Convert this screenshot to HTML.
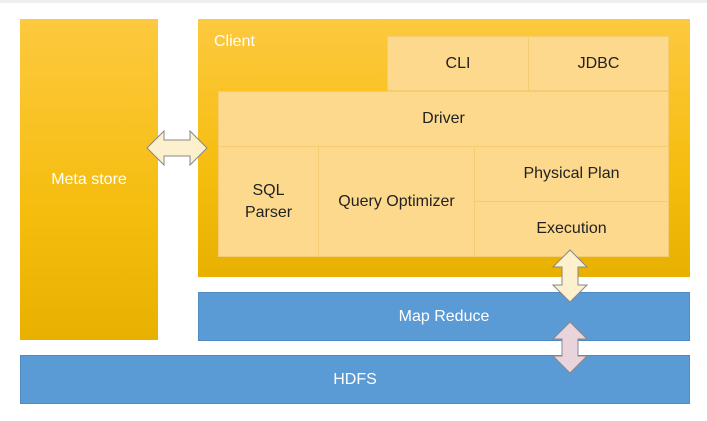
<!DOCTYPE html>
<html><head><style>
body{margin:0;width:707px;height:421px;background:#fff;position:relative;overflow:hidden;font-family:"Liberation Sans",sans-serif}
.a{position:absolute;box-sizing:border-box}
.y{background:linear-gradient(#fdc93f,#f5bd0e 60%,#e8b000)}
.b{background:#5b9bd5;border:1px solid #4f8ac2;color:#fff;font-size:16px;display:flex;align-items:center;justify-content:center}
.i{background:#fdd98d;border:1px solid #f6cc73;color:#222;font-size:16px;display:flex;align-items:center;justify-content:center;text-align:center;line-height:22px}
</style></head><body>
<div class="a" style="left:0;top:0;width:707px;height:3px;background:#eee"></div>
<div class="a y" style="left:20px;top:19px;width:138px;height:321px;color:#fff;font-size:16px;display:flex;align-items:center;justify-content:center">Meta store</div>
<div class="a y" style="left:198px;top:19px;width:492px;height:258px"></div>
<div class="a" style="left:214px;top:33px;color:#fff;font-size:16px">Client</div>
<div class="a i" style="left:387px;top:36px;width:142px;height:55px">CLI</div>
<div class="a i" style="left:528px;top:36px;width:141px;height:55px">JDBC</div>
<div class="a i" style="left:218px;top:91px;width:451px;height:56px">Driver</div>
<div class="a i" style="left:218px;top:146px;width:101px;height:111px">SQL<br>Parser</div>
<div class="a i" style="left:318px;top:146px;width:157px;height:111px">Query Optimizer</div>
<div class="a i" style="left:474px;top:146px;width:195px;height:56px">Physical Plan</div>
<div class="a i" style="left:474px;top:201px;width:195px;height:56px">Execution</div>
<div class="a b" style="left:198px;top:292px;width:492px;height:49px">Map Reduce</div>
<div class="a b" style="left:20px;top:355px;width:670px;height:49px">HDFS</div>
<svg class="a" style="left:0;top:0" width="707" height="421">
<polygon points="147,148 164,131 164,140 190,140 190,131 207,148 190,165 190,156 164,156 164,165" fill="#fdf0cc" stroke="#888" stroke-width="1"/>
<polygon points="570,250 587,267 578,267 578,285 587,285 570,302 553,285 562,285 562,267 553,267" fill="#fdf0cc" stroke="#888" stroke-width="1"/>
<polygon points="570,322 587,339 578,339 578,356 587,356 570,373 553,356 562,356 562,339 553,339" fill="#ead4dc" stroke="#888" stroke-width="1"/>
</svg>
</body></html>
